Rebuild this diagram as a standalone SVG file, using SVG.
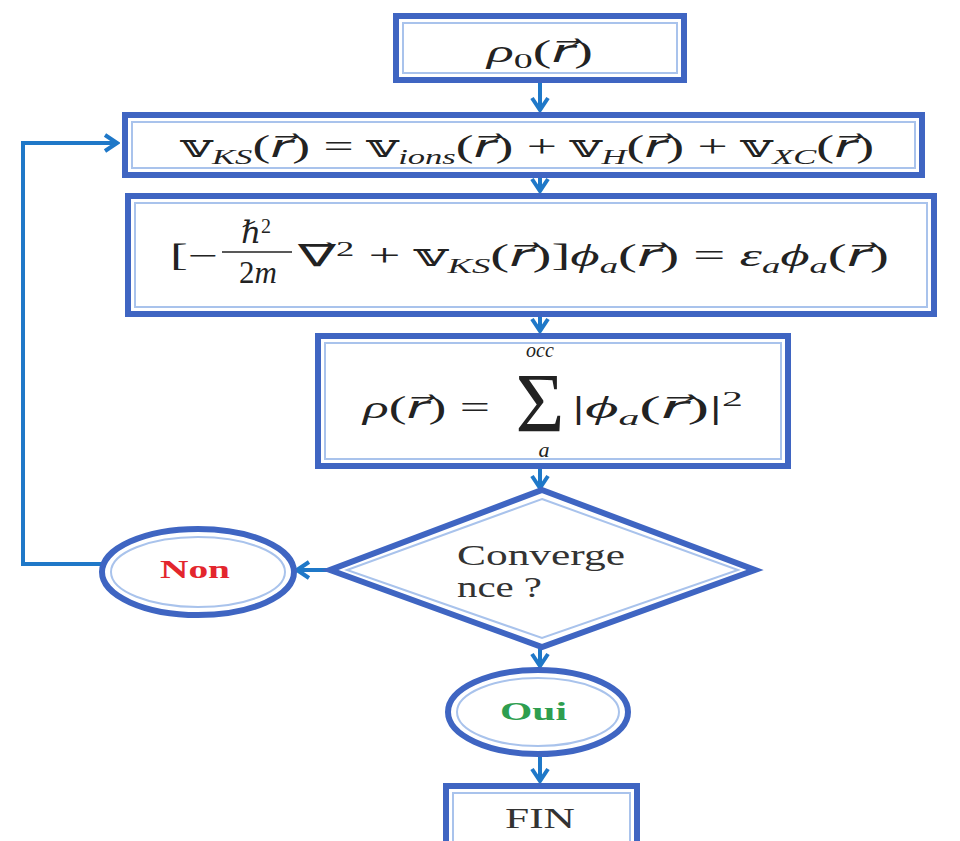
<svg xmlns="http://www.w3.org/2000/svg" width="960" height="841" viewBox="0 0 960 841">
<defs>
<style>
.outer{fill:#ffffff;stroke:#3f65c2;stroke-width:6}
.inner{fill:none;stroke:#a9c3ec;stroke-width:2}
.conn{fill:none;stroke:#1f78c8;stroke-width:4}
.m{font-family:"Liberation Serif","DejaVu Serif",serif;font-size:31px;fill:#222}
.i{font-style:italic}
.r{font-family:"DejaVu Serif","DejaVu Sans",serif;font-style:italic}
.sub{font-size:20px;font-style:italic}
.lbl{font-family:"Liberation Serif","DejaVu Serif",serif;fill:#333}
</style>
<marker id="ah" viewBox="0 0 20 20" refX="17" refY="10" markerWidth="20" markerHeight="20" markerUnits="userSpaceOnUse" orient="auto">
<path d="M5,2 L17,10 L5,18" fill="none" stroke="#1f78c8" stroke-width="4" stroke-linejoin="miter"/>
</marker>
</defs>
<rect width="960" height="841" fill="#ffffff"/>

<g id="connectors">
<line class="conn" x1="540" y1="82" x2="540" y2="110" marker-end="url(#ah)"/>
<line class="conn" x1="540" y1="177" x2="540" y2="191" marker-end="url(#ah)"/>
<line class="conn" x1="540" y1="316" x2="540" y2="331" marker-end="url(#ah)"/>
<line class="conn" x1="540" y1="468" x2="540" y2="488" marker-end="url(#ah)"/>
<line class="conn" x1="540" y1="647" x2="540" y2="666" marker-end="url(#ah)"/>
<line class="conn" x1="540" y1="755" x2="540" y2="781" marker-end="url(#ah)"/>
<line class="conn" x1="330" y1="570" x2="297" y2="570" marker-end="url(#ah)"/>
<polyline class="conn" points="101,564 23,564 23,143 117,143" marker-end="url(#ah)"/>
</g>

<g id="n_rho0">
<rect class="outer" x="396" y="16" width="288" height="64"/>
<rect class="inner" x="403" y="23" width="274" height="50"/>
<text class="m" x="487" y="62" textLength="106" lengthAdjust="spacingAndGlyphs"><tspan class="i">ρ</tspan><tspan dy="6" style="font-size:21px;font-style:normal">0</tspan><tspan dy="-6">(</tspan><tspan class="r">r⃗</tspan>)</text>
</g>

<g id="n_vks">
<rect class="outer" x="125" y="115" width="797" height="60"/>
<rect class="inner" x="132" y="122" width="783" height="46"/>
<text class="m" x="181" y="157" textLength="693" lengthAdjust="spacingAndGlyphs">𝕧<tspan class="sub" dy="7">KS</tspan><tspan dy="-7">(</tspan><tspan class="r">r⃗</tspan>) = 𝕧<tspan class="sub" dy="7">ions</tspan><tspan dy="-7">(</tspan><tspan class="r">r⃗</tspan>) + 𝕧<tspan class="sub" dy="7">H</tspan><tspan dy="-7">(</tspan><tspan class="r">r⃗</tspan>) + 𝕧<tspan class="sub" dy="7">XC</tspan><tspan dy="-7">(</tspan><tspan class="r">r⃗</tspan>)</text>
</g>

<g id="n_ks">
<rect class="outer" x="128" y="196" width="806" height="118"/>
<rect class="inner" x="135" y="203" width="792" height="104"/>
<text class="m" x="170" y="266" textLength="48" lengthAdjust="spacingAndGlyphs">[−</text>
<text class="m" x="256" y="243" text-anchor="middle"><tspan class="i">ℏ</tspan><tspan dy="-10" style="font-size:20px">2</tspan></text>
<line x1="222" y1="252" x2="292" y2="252" stroke="#222" stroke-width="1.6"/>
<text class="m" x="258" y="283" text-anchor="middle">2<tspan class="i">m</tspan></text>
<text class="m" x="298" y="266" textLength="591" lengthAdjust="spacingAndGlyphs"><tspan style="font-family:'DejaVu Serif','DejaVu Sans',serif">∇⃗</tspan><tspan dy="-10" style="font-size:20px">2</tspan><tspan dy="10"> + 𝕧</tspan><tspan class="sub" dy="7">KS</tspan><tspan dy="-7">(</tspan><tspan class="r">r⃗</tspan>)]<tspan class="i">ϕ</tspan><tspan class="sub" dy="7">a</tspan><tspan dy="-7">(</tspan><tspan class="r">r⃗</tspan>) = <tspan class="i">ε</tspan><tspan class="sub" dy="7">a</tspan><tspan class="i" dy="-7">ϕ</tspan><tspan class="sub" dy="7">a</tspan><tspan dy="-7">(</tspan><tspan class="r">r⃗</tspan>)</text>
</g>

<g id="n_rho">
<rect class="outer" x="318" y="336" width="470" height="130"/>
<rect class="inner" x="325" y="343" width="456" height="116"/>
<text class="m" x="363" y="418" textLength="127" lengthAdjust="spacingAndGlyphs"><tspan class="i">ρ</tspan>(<tspan class="r">r⃗</tspan>) =</text>
<text class="m"><tspan x="540" y="432" text-anchor="middle" style="font-size:84px">Σ</tspan><tspan x="540" y="357" text-anchor="middle" style="font-size:20px;font-style:italic">occ</tspan><tspan x="544" y="457" text-anchor="middle" style="font-size:22px;font-style:italic">a</tspan></text>
<text class="m" x="572" y="418" textLength="171" lengthAdjust="spacingAndGlyphs">|<tspan class="i">ϕ</tspan><tspan class="sub" dy="7">a</tspan><tspan dy="-7">(</tspan><tspan class="r">r⃗</tspan>)|<tspan dy="-12" style="font-size:20px">2</tspan></text>
</g>

<g id="n_conv">
<polygon class="outer" points="542,490 755,570 542,647 330,570"/>
<polygon class="inner" points="542,499 738,570 542,638 347,570"/>
<text class="lbl" x="457" y="565" textLength="168" lengthAdjust="spacingAndGlyphs" style="font-size:29px">Converge</text>
<text class="lbl" x="457" y="597" textLength="85" lengthAdjust="spacingAndGlyphs" style="font-size:29px">nce ?</text>
</g>

<g id="n_non">
<ellipse class="outer" cx="198" cy="572" rx="96" ry="43"/>
<ellipse class="inner" cx="198" cy="572" rx="87" ry="35"/>
<text class="lbl" x="160" y="578" textLength="70" lengthAdjust="spacingAndGlyphs" style="font-size:25px;font-weight:bold;fill:#e3262d">Non</text>
</g>

<g id="n_oui">
<ellipse class="outer" cx="538" cy="712" rx="90" ry="42"/>
<ellipse class="inner" cx="538" cy="712" rx="81" ry="34"/>
<text class="lbl" x="500" y="720" textLength="67" lengthAdjust="spacingAndGlyphs" style="font-size:25px;font-weight:bold;fill:#2e9e4f">Oui</text>
</g>

<g id="n_fin">
<rect class="outer" x="446" y="786" width="191" height="70"/>
<rect class="inner" x="453" y="793" width="177" height="60"/>
<text class="lbl" x="505" y="828" textLength="70" lengthAdjust="spacingAndGlyphs" style="font-size:30px">FIN</text>
</g>
</svg>
